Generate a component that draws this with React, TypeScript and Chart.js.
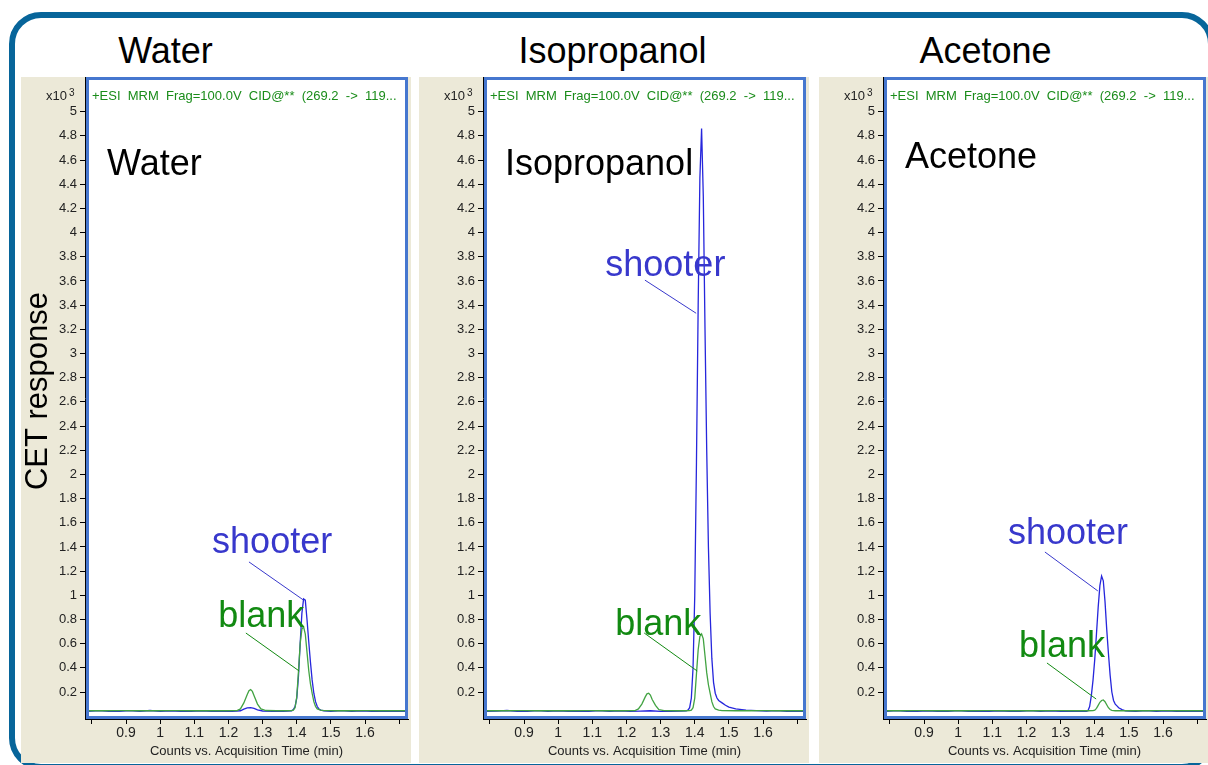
import React, { useEffect, useRef } from "react";
import { Chart, registerables } from "chart.js";

Chart.register(...registerables);

const FONT = '"Liberation Sans", Arial, Helvetica, sans-serif';

// ---------- text ----------
const panelNames = ["Water", "Isopropanol", "Acetone"];
const yAxisTitle = "CET response";
const xAxisTitle = "Counts vs. Acquisition Time (min)";
const traceHeader = "+ESI  MRM  Frag=100.0V  CID@**  (269.2  ->  119...";
const yScaleNote = "x10";
const yScaleExp = "3";
const shooterName = "shooter";
const blankName = "blank";

// ---------- ticks ----------
const xTickValues = [0.8, 0.9, 1.0, 1.1, 1.2, 1.3, 1.4, 1.5, 1.6, 1.7];
const xTickLabels = ["", "0.9", "1", "1.1", "1.2", "1.3", "1.4", "1.5", "1.6", ""];
const yTickValues = [0.2, 0.4, 0.6, 0.8, 1, 1.2, 1.4, 1.6, 1.8, 2, 2.2, 2.4, 2.6, 2.8, 3, 3.2, 3.4, 3.6, 3.8, 4, 4.2, 4.4, 4.6, 4.8, 5];
const yTickLabels = ["0.2", "0.4", "0.6", "0.8", "1", "1.2", "1.4", "1.6", "1.8", "2", "2.2", "2.4", "2.6", "2.8", "3", "3.2", "3.4", "3.6", "3.8", "4", "4.2", "4.4", "4.6", "4.8", "5"];
const xMin = 0.7798;
const xMax = 1.7258;
const yMin = -0.0232;
const yMax = 5.287;

// ---------- data (time in min, counts x10^3) ----------
const waterShooterTime = [0.79, 0.82, 0.85, 0.88, 0.91, 0.94, 0.97, 1.0, 1.03, 1.06, 1.09, 1.12, 1.15, 1.18, 1.21, 1.235, 1.245, 1.255, 1.265, 1.275, 1.285, 1.3, 1.33, 1.36, 1.385, 1.39, 1.395, 1.4, 1.405, 1.41, 1.415, 1.42, 1.425, 1.43, 1.435, 1.44, 1.445, 1.45, 1.455, 1.46, 1.465, 1.47, 1.48, 1.5, 1.53, 1.56, 1.59, 1.62, 1.65, 1.68, 1.71, 1.73];
const waterShooterCounts = [0.04, 0.046, 0.04, 0.041, 0.046, 0.04, 0.047, 0.04, 0.045, 0.04, 0.041, 0.045, 0.04, 0.042, 0.04, 0.045, 0.058, 0.068, 0.07, 0.064, 0.052, 0.043, 0.04, 0.041, 0.045, 0.055, 0.08, 0.15, 0.33, 0.6, 0.85, 0.97, 0.96, 0.8, 0.62, 0.45, 0.3, 0.19, 0.12, 0.08, 0.06, 0.05, 0.044, 0.04, 0.046, 0.04, 0.045, 0.04, 0.041, 0.04, 0.04, 0.04];
const waterBlankTime = [0.79, 0.84, 0.89, 0.94, 0.99, 1.04, 1.09, 1.14, 1.19, 1.225, 1.235, 1.245, 1.255, 1.26, 1.265, 1.27, 1.275, 1.285, 1.295, 1.31, 1.34, 1.37, 1.385, 1.39, 1.395, 1.4, 1.405, 1.41, 1.415, 1.42, 1.425, 1.43, 1.435, 1.44, 1.445, 1.45, 1.455, 1.46, 1.47, 1.48, 1.52, 1.56, 1.6, 1.64, 1.68, 1.73];
const waterBlankCounts = [0.045, 0.045, 0.046, 0.045, 0.045, 0.046, 0.045, 0.045, 0.045, 0.046, 0.06, 0.11, 0.18, 0.21, 0.22, 0.205, 0.17, 0.1, 0.06, 0.047, 0.045, 0.045, 0.046, 0.05, 0.07, 0.16, 0.37, 0.6, 0.72, 0.74, 0.68, 0.53, 0.38, 0.27, 0.19, 0.12, 0.08, 0.06, 0.05, 0.046, 0.045, 0.045, 0.046, 0.045, 0.045, 0.045];

const isoShooterTime = [0.79, 0.82, 0.85, 0.88, 0.91, 0.94, 0.97, 1.0, 1.03, 1.06, 1.09, 1.12, 1.15, 1.18, 1.21, 1.24, 1.27, 1.3, 1.33, 1.36, 1.375, 1.38, 1.385, 1.39, 1.395, 1.4, 1.405, 1.41, 1.415, 1.42, 1.425, 1.43, 1.435, 1.44, 1.445, 1.45, 1.455, 1.46, 1.465, 1.47, 1.48, 1.49, 1.5, 1.52, 1.55, 1.58, 1.61, 1.64, 1.67, 1.7, 1.73];
const isoShooterCounts = [0.04, 0.042, 0.047, 0.04, 0.041, 0.046, 0.04, 0.045, 0.04, 0.041, 0.04, 0.046, 0.04, 0.045, 0.04, 0.042, 0.045, 0.04, 0.041, 0.042, 0.045, 0.05, 0.07, 0.15, 0.4, 1.0, 2.1, 3.4, 4.45, 4.86, 4.3, 3.2, 2.2, 1.4, 0.85, 0.48, 0.28, 0.19, 0.15, 0.13, 0.11, 0.09, 0.075, 0.06, 0.05, 0.046, 0.042, 0.046, 0.04, 0.041, 0.04];
const isoBlankTime = [0.79, 0.84, 0.89, 0.94, 0.99, 1.04, 1.09, 1.14, 1.19, 1.225, 1.235, 1.245, 1.255, 1.26, 1.265, 1.27, 1.275, 1.285, 1.295, 1.31, 1.34, 1.37, 1.385, 1.39, 1.395, 1.4, 1.405, 1.41, 1.415, 1.42, 1.425, 1.43, 1.435, 1.44, 1.445, 1.45, 1.455, 1.46, 1.47, 1.48, 1.52, 1.56, 1.6, 1.64, 1.68, 1.73];
const isoBlankCounts = [0.045, 0.045, 0.046, 0.045, 0.045, 0.045, 0.046, 0.045, 0.045, 0.046, 0.06, 0.1, 0.16, 0.185, 0.19, 0.175, 0.14, 0.09, 0.055, 0.046, 0.045, 0.045, 0.046, 0.05, 0.07, 0.15, 0.35, 0.55, 0.66, 0.68, 0.64, 0.5, 0.36, 0.26, 0.19, 0.12, 0.08, 0.06, 0.05, 0.046, 0.045, 0.045, 0.046, 0.045, 0.045, 0.045];

const acetoneShooterTime = [0.79, 0.82, 0.85, 0.88, 0.91, 0.94, 0.97, 1.0, 1.03, 1.06, 1.09, 1.12, 1.15, 1.18, 1.21, 1.24, 1.27, 1.3, 1.33, 1.36, 1.375, 1.38, 1.385, 1.39, 1.395, 1.4, 1.405, 1.41, 1.415, 1.42, 1.425, 1.43, 1.435, 1.44, 1.445, 1.45, 1.455, 1.46, 1.465, 1.47, 1.48, 1.49, 1.5, 1.52, 1.55, 1.58, 1.61, 1.64, 1.67, 1.7, 1.73];
const acetoneShooterCounts = [0.04, 0.046, 0.04, 0.041, 0.045, 0.04, 0.04, 0.046, 0.04, 0.042, 0.04, 0.045, 0.04, 0.041, 0.046, 0.04, 0.045, 0.04, 0.041, 0.04, 0.04, 0.045, 0.08, 0.17, 0.3, 0.47, 0.68, 0.9, 1.08, 1.16, 1.12, 0.95, 0.72, 0.52, 0.34, 0.2, 0.13, 0.1, 0.085, 0.07, 0.055, 0.045, 0.042, 0.04, 0.046, 0.04, 0.045, 0.04, 0.04, 0.04, 0.04];
const acetoneBlankTime = [0.79, 0.84, 0.89, 0.94, 0.99, 1.04, 1.09, 1.14, 1.19, 1.24, 1.29, 1.34, 1.38, 1.395, 1.4, 1.405, 1.41, 1.415, 1.42, 1.425, 1.43, 1.435, 1.44, 1.445, 1.45, 1.46, 1.5, 1.55, 1.6, 1.65, 1.7, 1.73];
const acetoneBlankCounts = [0.045, 0.045, 0.046, 0.045, 0.045, 0.045, 0.046, 0.045, 0.045, 0.045, 0.046, 0.045, 0.045, 0.046, 0.05, 0.065, 0.09, 0.115, 0.13, 0.134, 0.12, 0.095, 0.07, 0.055, 0.048, 0.045, 0.045, 0.045, 0.046, 0.045, 0.045, 0.045];

const shooterTimes = [waterShooterTime, isoShooterTime, acetoneShooterTime];
const shooterCounts = [waterShooterCounts, isoShooterCounts, acetoneShooterCounts];
const blankTimes = [waterBlankTime, isoBlankTime, acetoneBlankTime];
const blankCounts = [waterBlankCounts, isoBlankCounts, acetoneBlankCounts];

// callout anchors in data units [time, counts]
const shooterTextAt = [[1.152, 1.35], [1.138, 3.64], [1.146, 1.424]];
const shooterLineFrom = [[1.26, 1.276], [1.254, 3.607], [1.254, 1.358]];
const shooterLineTo = [[1.419, 0.962], [1.404, 3.333], [1.409, 1.036]];
const blankTextAt = [[1.17, 0.737], [1.167, 0.67], [1.178, 0.49]];
const blankLineFrom = [[1.251, 0.688], [1.252, 0.688], [1.26, 0.44]];
const blankLineTo = [[1.407, 0.374], [1.407, 0.374], [1.404, 0.142]];

// ---------- styles ----------
const BEIGE = "#ece9d8";
const FRAME_BLUE = "#4677cf";
const OUTER_BLUE = "#07659a";
const LINE_BLUE = "#2626dc";
const LINE_GREEN = "#42a342";
const TEXT_BLUE = "#3838cc";
const TEXT_GREEN = "#128a12";
const HEADER_GREEN = "#1a8c1a";

const panelLefts = [21, 419, 819];
const PANEL_TOP = 77;
const PANEL_W = 390;
const PANEL_H = 686;
const innerLabelBaseline = [98, 98, 91];

function toPoints(t: number[], v: number[]) {
  return t.map((x, i) => ({ x, y: v[i] }));
}

function Panel({ index }: { index: number }) {
  const ref = useRef<HTMLCanvasElement | null>(null);

  useEffect(() => {
    if (!ref.current) return;
    const decor = {
      id: "panelDecor",
      beforeDraw(chart: any) {
        const { ctx, chartArea: a, width, height } = chart;
        ctx.save();
        ctx.fillStyle = BEIGE;
        ctx.fillRect(0, 0, width, height);
        ctx.fillStyle = "#ffffff";
        ctx.fillRect(a.left, a.top, a.right - a.left, a.bottom - a.top);
        ctx.restore();
      },
      afterDatasetsDraw(chart: any) {
        const { ctx, chartArea: a } = chart;
        const xs = chart.scales.x;
        const ys = chart.scales.y;
        const px = (p: number[]) => [xs.getPixelForValue(p[0]), ys.getPixelForValue(p[1])];
        ctx.save();
        // inner panel label
        ctx.font = `36px ${FONT}`;
        ctx.fillStyle = "#000";
        ctx.textAlign = "left";
        ctx.textBaseline = "alphabetic";
        ctx.fillText(panelNames[index], a.left + 22, a.top + innerLabelBaseline[index]);
        // callouts
        const drawCallout = (name: string, at: number[], from: number[], to: number[], color: string) => {
          const t = px(at);
          ctx.fillStyle = color;
          ctx.fillText(name, t[0], t[1]);
          const f = px(from);
          const e = px(to);
          ctx.strokeStyle = color;
          ctx.lineWidth = 1;
          ctx.beginPath();
          ctx.moveTo(f[0], f[1]);
          ctx.lineTo(e[0], e[1]);
          ctx.stroke();
        };
        drawCallout(shooterName, shooterTextAt[index], shooterLineFrom[index], shooterLineTo[index], TEXT_BLUE);
        drawCallout(blankName, blankTextAt[index], blankLineFrom[index], blankLineTo[index], TEXT_GREEN);
        // header
        ctx.font = `13px ${FONT}`;
        ctx.fillStyle = HEADER_GREEN;
        ctx.fillText(traceHeader, a.left + 7, a.top + 23);
        // frame
        ctx.strokeStyle = FRAME_BLUE;
        ctx.lineWidth = 3;
        ctx.strokeRect(a.left + 2.5, a.top + 1.5, a.right - a.left - 4, a.bottom - a.top - 3);
        ctx.restore();
      },
      afterDraw(chart: any) {
        const { ctx, chartArea: a } = chart;
        ctx.save();
        ctx.fillStyle = "#222";
        ctx.textBaseline = "alphabetic";
        ctx.font = `13px ${FONT}`;
        ctx.textAlign = "right";
        ctx.fillText(yScaleNote, a.left - 18, a.top + 23);
        ctx.font = `10px ${FONT}`;
        ctx.textAlign = "left";
        ctx.fillText(yScaleExp, a.left - 16, a.top + 19);
        if (index === 0) {
          ctx.font = `31px ${FONT}`;
          ctx.fillStyle = "#000";
          ctx.textAlign = "center";
          ctx.textBaseline = "middle";
          ctx.translate(17, 391 - PANEL_TOP);
          ctx.rotate(-Math.PI / 2);
          ctx.fillText(yAxisTitle, 0, 0);
        }
        ctx.restore();
      },
    };

    const chart = new Chart(ref.current, {
      type: "line",
      data: {
        datasets: [
          {
            label: blankName,
            data: toPoints(blankTimes[index], blankCounts[index]),
            borderColor: LINE_GREEN,
            borderWidth: 1.3,
            pointRadius: 0,
            tension: 0,
            fill: false,
          },
          {
            label: shooterName,
            data: toPoints(shooterTimes[index], shooterCounts[index]),
            borderColor: LINE_BLUE,
            borderWidth: 1.3,
            pointRadius: 0,
            tension: 0,
            fill: false,
          },
        ],
      },
      options: {
        responsive: false,
        animation: false,
        devicePixelRatio: 1,
        layout: { padding: { left: 0, right: 3, top: 0, bottom: 0 }, autoPadding: false },
        plugins: {
          legend: { display: false },
          tooltip: { enabled: false },
          title: { display: false },
        },
        events: [],
        scales: {
          x: {
            type: "linear",
            min: xMin,
            max: xMax,
            afterBuildTicks: (s: any) => {
              s.ticks = xTickValues.map((v) => ({ value: v }));
            },
            afterFit: (s: any) => {
              s.height = 44;
              s.paddingLeft = 0;
              s.paddingRight = 0;
            },
            ticks: {
              autoSkip: false,
              maxRotation: 0,
              minRotation: 0,
              padding: 1,
              color: "#222",
              font: { family: FONT, size: 14 },
              callback: (_v: any, i: number) => xTickLabels[i],
            },
            grid: { drawOnChartArea: false, drawTicks: true, tickLength: 5, color: "#000", lineWidth: 1 },
            border: { display: true, color: "#000", width: 1 },
            title: {
              display: true,
              text: xAxisTitle,
              color: "#222",
              font: { family: FONT, size: 13 },
              padding: { top: 0, bottom: 4 },
            },
          },
          y: {
            type: "linear",
            min: yMin,
            max: yMax,
            afterBuildTicks: (s: any) => {
              s.ticks = yTickValues.map((v) => ({ value: v }));
            },
            afterFit: (s: any) => {
              s.width = 64;
              s.paddingTop = 0;
              s.paddingBottom = 0;
            },
            ticks: {
              autoSkip: false,
              padding: 3,
              color: "#222",
              font: { family: FONT, size: 13 },
              callback: (_v: any, i: number) => yTickLabels[i],
            },
            grid: { drawOnChartArea: false, drawTicks: true, tickLength: 5, color: "#000", lineWidth: 1 },
            border: { display: true, color: "#000", width: 1 },
          },
        },
      } as any,
      plugins: [decor],
    });
    return () => chart.destroy();
  }, [index]);

  return (
    <div style={{ position: "absolute", left: panelLefts[index], top: PANEL_TOP, width: PANEL_W, height: PANEL_H }}>
      <canvas ref={ref} width={PANEL_W} height={PANEL_H} style={{ display: "block" }} />
    </div>
  );
}

const titleCenters = [165.5, 612.5, 985.5];

export default function App() {
  return (
    <div
      style={{
        position: "absolute",
        left: 0,
        top: 0,
        width: 1208,
        height: 765,
        overflow: "hidden",
        background: "#fff",
        fontFamily: FONT,
      }}
    >
      <div
        style={{
          position: "absolute",
          left: 9,
          top: 12,
          width: 1205,
          height: 758,
          boxSizing: "border-box",
          border: `6px solid ${OUTER_BLUE}`,
          borderRadius: 32,
        }}
      />
      {panelNames.map((name, i) => (
        <div
          key={name}
          style={{
            position: "absolute",
            left: titleCenters[i],
            top: 32.5,
            transform: "translateX(-50%)",
            fontSize: 36,
            lineHeight: "36px",
            whiteSpace: "nowrap",
            color: "#000",
          }}
        >
          {name}
        </div>
      ))}
      {panelNames.map((name, i) => (
        <Panel key={name} index={i} />
      ))}
    </div>
  );
}
